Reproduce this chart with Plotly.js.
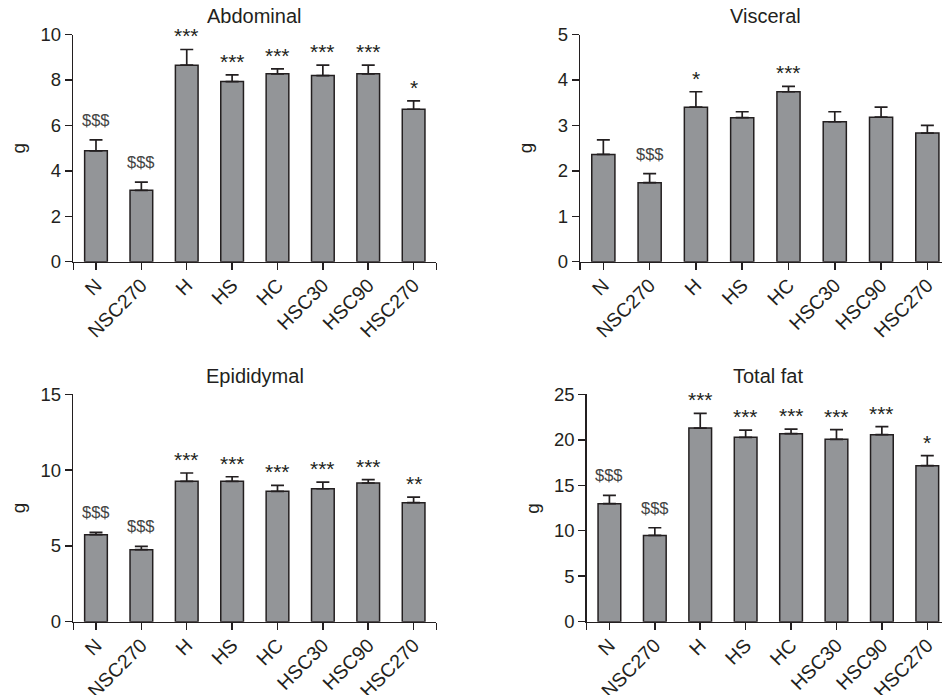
<!DOCTYPE html>
<html>
<head>
<meta charset="utf-8">
<script src="https://cdn.plot.ly/plotly-3.0.1.min.js"></script>
<style>
html, body { margin: 0; padding: 0; overflow: hidden; background: #fff; }
#chart { width: 952px; height: 695px; }
</style>
</head>
<body>
<div id="chart"></div>
<script>
// ---- Data ----
const categories = ['N', 'NSC270', 'H', 'HS', 'HC', 'HSC30', 'HSC90', 'HSC270'];

const abdominalMean = [4.88, 3.14, 8.65, 7.93, 8.27, 8.19, 8.27, 6.71];
const abdominalSem  = [0.48, 0.36, 0.69, 0.29, 0.22, 0.46, 0.38, 0.37];
const abdominalSig  = ['$$$', '$$$', '***', '***', '***', '***', '***', '*'];

const visceralMean = [2.36, 1.74, 3.40, 3.17, 3.74, 3.08, 3.18, 2.83];
const visceralSem  = [0.32, 0.20, 0.34, 0.13, 0.12, 0.22, 0.22, 0.17];
const visceralSig  = ['', '$$$', '*', '', '***', '', '', ''];

const epididymalMean = [5.74, 4.75, 9.26, 9.26, 8.60, 8.77, 9.15, 7.85];
const epididymalSem  = [0.15, 0.22, 0.55, 0.30, 0.39, 0.44, 0.22, 0.37];
const epididymalSig  = ['$$$', '$$$', '***', '***', '***', '***', '***', '**'];

const totalMean = [12.97, 9.49, 21.29, 20.27, 20.67, 20.05, 20.56, 17.15];
const totalSem  = [0.92, 0.84, 1.61, 0.80, 0.51, 1.06, 0.88, 1.10];
const totalSig  = ['$$$', '$$$', '***', '***', '***', '***', '***', '*'];

const panelTitles = ['Abdominal', 'Visceral', 'Epididymal', 'Total fat'];
const yMax = [10, 5, 15, 25];
const yStep = [2, 1, 5, 5];
const yLabel = 'g';

// ---- Build ----
const W = 952, H = 695;
const INK = '#231f20';
const BARFILL = '#939598';
const FONT = '"Liberation Sans", Arial, Helvetica, sans-serif';

const panels = [
  {mean: abdominalMean, sem: abdominalSem, sig: abdominalSig, px: [73.3, 436.3], py: [34.5, 261.7]},
  {mean: visceralMean, sem: visceralSem, sig: visceralSig, px: [580.2, 950.5], py: [34.5, 261.7]},
  {mean: epididymalMean, sem: epididymalSem, sig: epididymalSig, px: [73.3, 436.3], py: [394.3, 621.7]},
  {mean: totalMean, sem: totalSem, sig: totalSig, px: [586.7, 950.0], py: [394.3, 621.7]}
];

const xIdx = categories.map((c, i) => i);
const traces = [];
const layout = {
  width: W, height: H,
  margin: {l: 0, r: 0, t: 0, b: 0},
  paper_bgcolor: '#fff', plot_bgcolor: 'rgba(0,0,0,0)',
  showlegend: false,
  font: {family: FONT, color: INK, size: 18},
  annotations: []
};

panels.forEach((p, k) => {
  const n = k === 0 ? '' : String(k + 1);
  const xa = 'x' + n, ya = 'y' + n;
  traces.push({
    type: 'bar',
    x: xIdx,
    y: p.mean,
    width: 0.5,
    xaxis: xa, yaxis: ya,
    marker: {color: BARFILL, line: {color: INK, width: 1.5}},
    error_y: {
      type: 'data', symmetric: false,
      array: p.sem, arrayminus: p.sem.map(() => 0),
      color: INK, thickness: 1.7, width: 6.5
    },
    hoverinfo: 'skip'
  });
  layout['xaxis' + n] = {
    domain: [p.px[0] / W, p.px[1] / W],
    anchor: ya,
    range: [-0.5, 7.5],
    tickmode: 'array', tickvals: xIdx, ticktext: categories,
    tickangle: -45,
    ticks: 'outside', ticklen: 7, tickwidth: 1.5, tickcolor: INK,
    ticklabelstandoff: -4,
    minor: {tickmode: 'array', tickvals: [-0.5, 7.5], ticks: 'outside', ticklen: 7, tickwidth: 1.5, tickcolor: INK},
    showline: true, linecolor: INK, linewidth: 1.5,
    showgrid: false, zeroline: false,
    tickfont: {family: FONT, size: 19.5, color: INK},
    automargin: false, fixedrange: true
  };
  layout['yaxis' + n] = {
    domain: [1 - p.py[1] / H, 1 - p.py[0] / H],
    anchor: xa,
    range: [0, yMax[k]],
    dtick: yStep[k], tick0: 0,
    ticks: 'outside', ticklen: 7, tickwidth: 1.5, tickcolor: INK,
    showline: true, linecolor: INK, linewidth: 1.5,
    showgrid: false, zeroline: false,
    tickfont: {family: FONT, size: 18.5, color: INK},
    automargin: false, fixedrange: true
  };
  // panel title
  layout.annotations.push({
    xref: xa + ' domain', yref: ya + ' domain', x: 0.5, y: 1,
    xanchor: 'center', yanchor: 'middle', yshift: 18,
    text: panelTitles[k], showarrow: false,
    font: {family: FONT, size: 20, color: INK}
  });
  // y-axis title
  layout.annotations.push({
    xref: xa + ' domain', yref: ya + ' domain', x: 0, y: 0.5,
    xanchor: 'center', yanchor: 'middle', xshift: -55,
    text: yLabel, textangle: -90, showarrow: false,
    font: {family: FONT, size: 19, color: INK}
  });
  // significance marks
  p.sig.forEach((s, i) => {
    if (!s) return;
    const dollar = s.indexOf('$') >= 0;
    layout.annotations.push({
      xref: xa, yref: ya, x: xIdx[i], y: p.mean[i] + p.sem[i],
      xanchor: 'center', yanchor: 'bottom',
      yshift: dollar ? 9 : 0,
      text: s, showarrow: false,
      font: {family: FONT, size: dollar ? 16.5 : 21, color: dollar ? '#444' : INK}
    });
  });
});

Plotly.newPlot('chart', traces, layout, {staticPlot: true, displayModeBar: false});
</script>
</body>
</html>
